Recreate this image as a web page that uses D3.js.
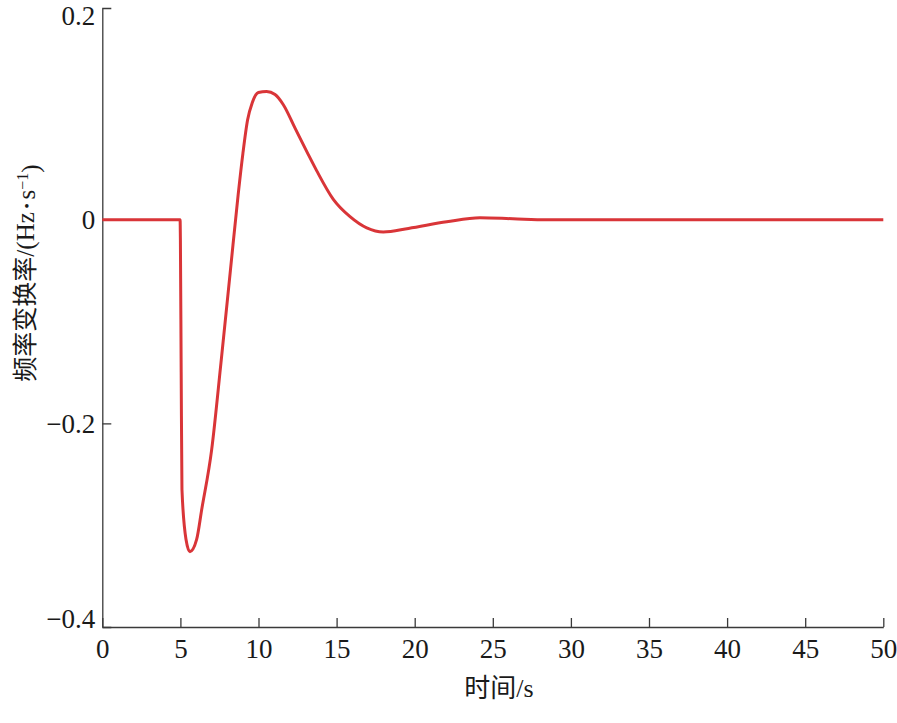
<!DOCTYPE html>
<html>
<head>
<meta charset="utf-8">
<script src="https://cdn.jsdelivr.net/npm/d3@7"></script>
<style>
  body { margin: 0; background: #fff; }
  svg { display: block; }
</style>
</head>
<body>
<div id="chart"></div>
<script>
// time (s) and rate of change of frequency (Hz/s)
var times = [0, 4.98, 5.0, 5.05, 5.1, 5.36, 5.61, 6.04, 6.36, 7.0, 7.6, 8.2, 8.7, 9.0, 9.3, 9.6,
  9.99, 10.52, 11.06, 11.59, 12.34, 13.19, 13.73, 14.79, 15.86, 16.93, 17.99, 19.6,
  22.05, 24.18, 26.29, 28.45, 35, 50];
var rocof = [0, 0, -0.02, -0.15, -0.265, -0.314, -0.326, -0.314, -0.285, -0.226, -0.14, -0.05, 0.025, 0.065, 0.098, 0.115,
  0.125, 0.126, 0.123, 0.113, 0.090, 0.064, 0.048, 0.020, 0.003, -0.008, -0.012, -0.0085,
  -0.002, 0.002, 0.001, 0, 0, 0];
var xTicks = [0, 5, 10, 15, 20, 25, 30, 35, 40, 45, 50];
var yTicks = [-0.4, -0.2, 0, 0.2];

var serif = "'Liberation Serif', 'DejaVu Serif', 'Noto Sans CJK SC', serif";
var width = 897, height = 723;
var svg = d3.select("#chart").append("svg").attr("width", width).attr("height", height);

var x = d3.scaleLinear().domain([0, 50]).range([102.3, 883.3]);
var y = d3.scaleLinear().domain([-0.4, 0.208]).range([627, 8]);

var fmt = function(d) { return d === 0 ? "0" : d3.format(".1f")(d).replace("-", "\u2212"); };

// x axis
var gx = svg.append("g").attr("transform", "translate(0,627)")
  .call(d3.axisBottom(x).tickValues(xTicks).tickSizeInner(-9).tickSizeOuter(0).tickPadding(12));

// y axis
var gy = svg.append("g").attr("transform", "translate(102.3,0)")
  .call(d3.axisLeft(y).tickValues(yTicks).tickFormat(fmt).tickSizeInner(-9).tickSizeOuter(-9).tickPadding(7));
gy.selectAll(".tick").filter(function(d) { return d === 0.2 || d === -0.4; }).select("line").remove();
gy.selectAll(".tick").filter(function(d) { return d === -0.4; }).select("text").attr("dy", "0");

svg.selectAll("g").attr("font-family", null).attr("font-size", null);
svg.selectAll(".tick text").style("font-family", serif).style("font-size", "27px").style("fill", "#1a1a1a");
svg.selectAll(".domain, .tick line").attr("stroke", "#3a3a3a").attr("stroke-width", 1.3);

// curve
var data = times.map(function(t, i) { return [t, rocof[i]]; });
var line = d3.line().x(function(d) { return x(d[0]); }).y(function(d) { return y(d[1]); })
  .curve(d3.curveMonotoneX);
svg.append("path").datum(data).attr("d", line)
  .attr("fill", "none").attr("stroke", "#d93538").attr("stroke-width", 3).attr("stroke-linejoin", "round");

// axis titles
svg.append("text").attr("x", 499).attr("y", 697).attr("text-anchor", "middle")
  .style("font-family", serif).style("font-size", "26px").style("fill", "#1a1a1a").text("时间/s");

var yl = svg.append("text").attr("transform", "translate(25,273) rotate(-90)")
  .attr("text-anchor", "middle").attr("dy", "0.35em")
  .style("font-family", serif).style("font-size", "25px").style("fill", "#1a1a1a");
yl.append("tspan").text("频率变换率/(Hz");
yl.append("tspan").style("font-size", "15px").attr("dy", "-0.1em").text(" \u2022 ");
yl.append("tspan").attr("dy", "0.1em").text("s");
yl.append("tspan").attr("dy", "-0.45em").style("font-size", "16px").text("\u22121");
yl.append("tspan").attr("dy", "0.45em").text(")");
</script>
</body>
</html>
